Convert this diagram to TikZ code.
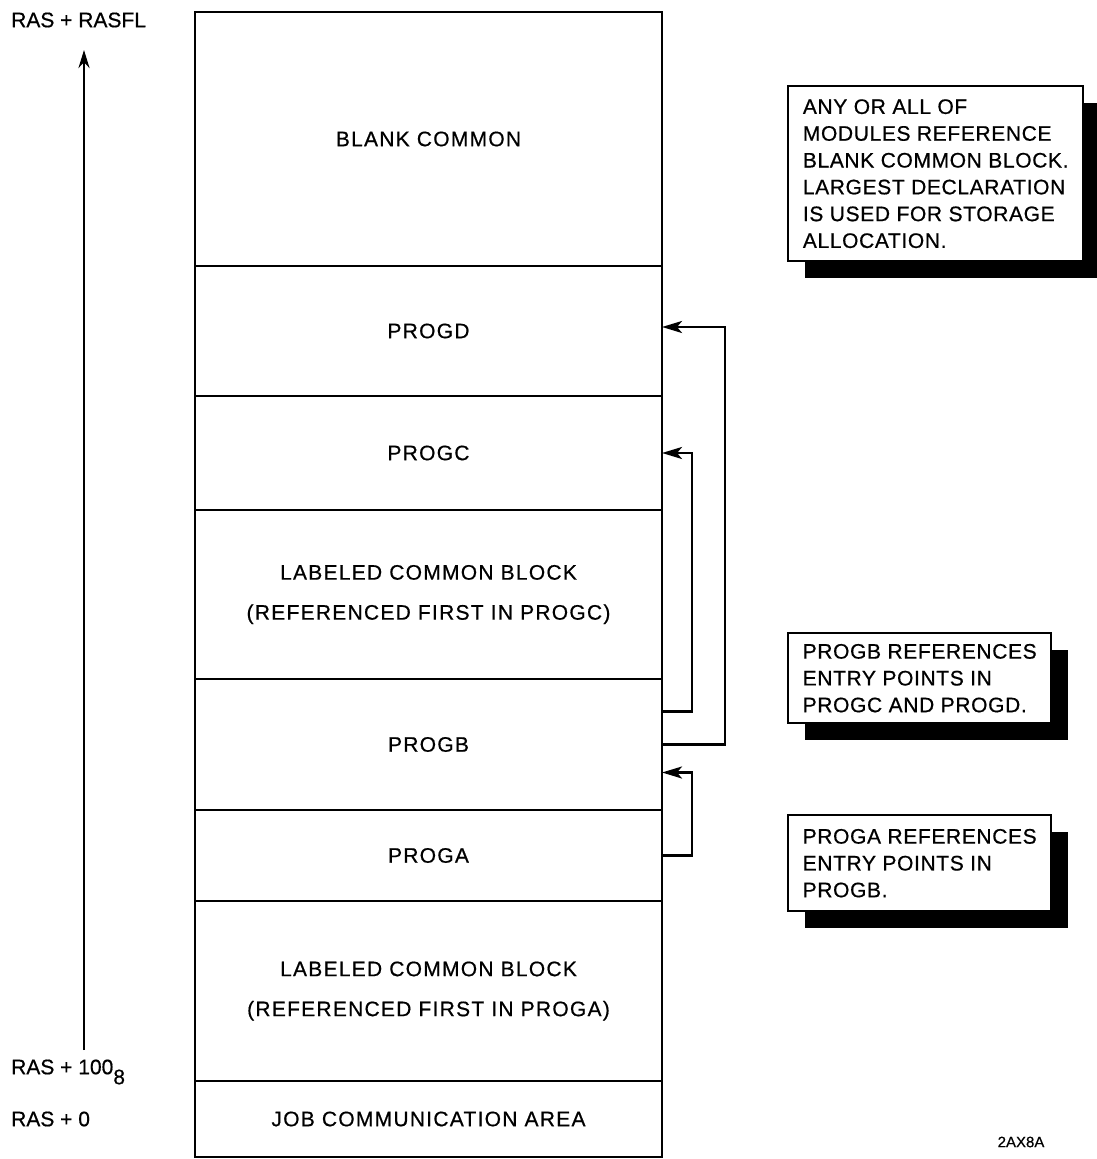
\documentclass[tikz,border=0pt]{standalone}
\usepackage{fontspec}
\setmainfont[FakeBold=0.6]{Liberation Sans}
\newfontfamily\widefont[LetterSpace=6,FakeBold=0.6]{Liberation Sans}
\newfontfamily\notefont[LetterSpace=3,FakeBold=0.6]{Liberation Sans}
\usetikzlibrary{arrows.meta,positioning,shadows}

\begin{document}
\begin{tikzpicture}[x=0.5pt, y=-0.5pt, line width=1.2pt, node distance=0pt,
  block/.style={draw, rectangle, minimum width=233.5pt, outer sep=0pt, inner sep=2pt, align=center, font=\widefont\fontsize{10.5}{20}\selectfont},
  note/.style={draw, rectangle, fill=white, anchor=north west, align=left, inner sep=3pt, font=\notefont\fontsize{10.5}{13.4}\selectfont, drop shadow={shadow xshift=8.5pt, shadow yshift=-8.5pt, fill=black, opacity=1}},
  addr/.style={anchor=west, inner sep=0pt, font=\fontsize{10.5}{12}\selectfont},
  ref/.style={-{Stealth[length=10pt,width=6pt,inset=2.5pt]}, line width=1.3pt}]

\useasboundingbox (0,0) rectangle (1096,1159);

\node[block, minimum height=127pt] (blank) at (428.5,139) {BLANK COMMON};
\node[block, minimum height=65pt, below=of blank] (progd) {PROGD};
\node[block, minimum height=57pt, below=of progd] (progc) {PROGC};
\node[block, minimum height=84.5pt, below=of progc] (labc) {LABELED COMMON BLOCK\\(REFERENCED FIRST IN PROGC)};
\node[block, minimum height=65.5pt, below=of labc] (progb) {PROGB};
\node[block, minimum height=45.5pt, below=of progb] (proga) {PROGA};
\node[block, minimum height=90pt, below=of proga] (laba) {LABELED COMMON BLOCK\\(REFERENCED FIRST IN PROGA)};
\node[block, minimum height=38pt, below=of laba] (jca) {JOB COMMUNICATION AREA};

% entry point references
\draw[ref] (progb.east) -- ++(63,0) |- ([yshift=2pt]progd.east);
\draw[ref] ([yshift=16.5pt]progb.east) -- ++(30,0) |- (progc.east);
\draw[ref] (proga.east) -- ++(30,0) |- ([yshift=-14pt]progb.east);

% address axis
\coordinate (axbot) at (84,1050);
\coordinate (axtop) at (84,50);
\draw[-{Stealth[length=9pt,width=5.5pt]}, line width=1.3pt] (axbot) -- (axtop);
\node[addr] (rasfl) at (10,20) {RAS + RASFL};
\node[addr] (ras100) at (10,1072) {RAS + 100\raisebox{-5pt}{8}};
\node[addr] (ras0) at (10,1119) {RAS + 0};

\node[note, minimum width=147.5pt, minimum height=87.5pt] (blanknote) at (787,85) {ANY OR ALL OF\\MODULES REFERENCE\\BLANK COMMON BLOCK.\\LARGEST DECLARATION\\IS USED FOR STORAGE\\ALLOCATION.};
\node[note, minimum width=131.5pt, minimum height=45pt] (progbnote) at (787,632) {PROGB REFERENCES\\ENTRY POINTS IN\\PROGC AND PROGD.};
\node[note, minimum width=131.5pt, minimum height=48pt] (proganote) at (787,814) {PROGA REFERENCES\\ENTRY POINTS IN\\PROGB.};

\node[font=\fontsize{7.5}{9}\selectfont] (figid) at (1021,1142) {2AX8A};

\end{tikzpicture}
\end{document}
